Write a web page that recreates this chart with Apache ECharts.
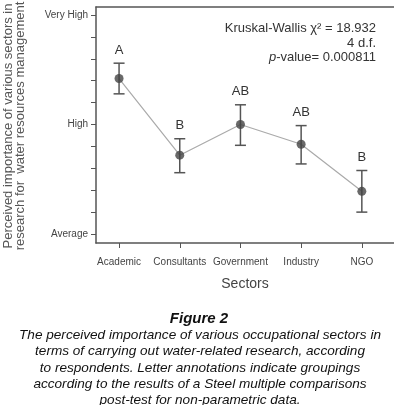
<!DOCTYPE html>
<html><head><meta charset="utf-8">
<script src="https://cdn.jsdelivr.net/npm/echarts@6/dist/echarts.min.js"></script>
<style>html,body{margin:0;padding:0;background:#fff}#c{width:394px;height:405px}</style>
</head><body><div id="c"></div>
<script>
const categories = ['Academic','Consultants','Government','Industry','NGO'];
const means = [4.42, 3.72, 4.00, 3.82, 3.39];
const upper = [4.56, 3.87, 4.18, 3.99, 3.58];
const lower = [4.28, 3.56, 3.81, 3.64, 3.20];
const letters = ['A','B','AB','AB','B'];
const yTickValues = [3,3.2,3.4,3.6,3.8,4,4.2,4.4,4.6,4.8,5];
const yLabelValues = [3,4,5];
const yLabelText = {3:'Average',4:'High',5:'Very High'};
const statLines = ['Kruskal-Wallis χ² = 18.932','4 d.f.','p-value= 0.000811'];
const yTitle = ['Perceived importance of various sectors in','research for  water resources management'];
const captionTitle = 'Figure 2';
const caption = [
 'The perceived importance of various occupational sectors in',
 'terms of carrying out water-related research, according',
 'to respondents. Letter annotations indicate groupings',
 'according to the results of a Steel multiple comparisons',
 'post-test for non-parametric data.'
];

const F = 'Liberation Sans, Arial, sans-serif';
const chart = echarts.init(document.getElementById('c'), null, {renderer:'canvas'});
const idx = categories.map((c,i)=>i);
const graphics = [];
statLines.forEach((t,i)=>{
  if(i===2){
    graphics.push({type:'text', right: 18, top: 51, style:{text:'{i|p}-value= 0.000811', rich:{i:{fontStyle:'italic',fontSize:13,fontFamily:F,fill:'#333'}}, font:'13px '+F, fill:'#333'}});
  } else {
    graphics.push({type:'text', right: 18, top: 22+i*14.5, style:{text:t, font:'13px '+F, fill:'#333'}});
  }
});
yTitle.forEach((t,i)=>{
  graphics.push({type:'text', x: 8+i*12.5, y: 126, rotation: Math.PI/2, style:{text:t, font:'13px '+F, fill:'#555', textAlign:'center', textVerticalAlign:'middle'}});
});
graphics.push({type:'text', x: 199, y: 319, style:{text:captionTitle, font:'italic bold 15px '+F, fill:'#111', textAlign:'center', textVerticalAlign:'middle'}});
caption.forEach((t,i)=>{
  graphics.push({type:'text', x: 200, y: 335+i*16.4, style:{text:t, font:'italic 13.6px '+F, fill:'#111', textAlign:'center', textVerticalAlign:'middle'}});
});

chart.setOption({
  animation:false,
  grid:{left:96, right:0, top:7, bottom:162},
  xAxis:[{
    type:'value', min:-0.38, max:4.53,
    axisLine:{show:true, onZero:false, lineStyle:{color:'#555', width:1.5}},
    axisTick:{show:true, customValues:idx, length:5, lineStyle:{color:'#555'}},
    axisLabel:{customValues:idx, formatter:v=>categories[Math.round(v)], margin:14, fontSize:10, fontFamily:F, color:'#444'},
    splitLine:{show:false},
    name:'Sectors', nameLocation:'middle', nameGap:34, nameTextStyle:{fontSize:14, fontFamily:F, color:'#444'}
  },{
    type:'value', position:'top', min:-0.38, max:4.53,
    axisLine:{show:true, onZero:false, lineStyle:{color:'#555', width:1.5}},
    axisTick:{show:false}, axisLabel:{show:false}, splitLine:{show:false}
  }],
  yAxis:{
    type:'value', min:2.918, max:5.073,
    axisLine:{show:true, onZero:false, lineStyle:{color:'#555', width:1.5}},
    axisTick:{show:true, customValues:yTickValues, length:5, lineStyle:{color:'#555'}},
    axisLabel:{customValues:yLabelValues, formatter:v=>yLabelText[Math.round(v)]||'', margin:8, fontSize:10, fontFamily:F, color:'#444'},
    splitLine:{show:false}
  },
  graphic: graphics,
  series:[
    {type:'line', data: idx.map(i=>[i, means[i]]), symbol:'none', lineStyle:{color:'#aaa', width:1.2}, z:1},
    {type:'custom', z:2, data: idx.map(i=>[i, lower[i], upper[i]]),
      renderItem:(params, api)=>{
        const x = api.value(0);
        const lo = api.coord([x, api.value(1)]);
        const hi = api.coord([x, api.value(2)]);
        const w = 5.5;
        const st = {stroke:'#555', lineWidth:1.5};
        return {type:'group', children:[
          {type:'line', shape:{x1:lo[0], y1:lo[1], x2:hi[0], y2:hi[1]}, style:st},
          {type:'line', shape:{x1:hi[0]-w, y1:hi[1], x2:hi[0]+w, y2:hi[1]}, style:st},
          {type:'line', shape:{x1:lo[0]-w, y1:lo[1], x2:lo[0]+w, y2:lo[1]}, style:st}
        ]};
      }},
    {type:'scatter', data: idx.map(i=>[i, means[i]]), symbolSize:9, itemStyle:{color:'#444'}, z:3},
    {type:'custom', z:4, data: idx.map(i=>[i, upper[i]]),
      renderItem:(params, api)=>{
        const p = api.coord([api.value(0), api.value(1)]);
        return {type:'text', x:p[0], y:p[1]-13, style:{text:letters[params.dataIndex], font:'13px '+F, fill:'#333', textAlign:'center', textVerticalAlign:'middle'}};
      }}
  ]
});
</script></body></html>
